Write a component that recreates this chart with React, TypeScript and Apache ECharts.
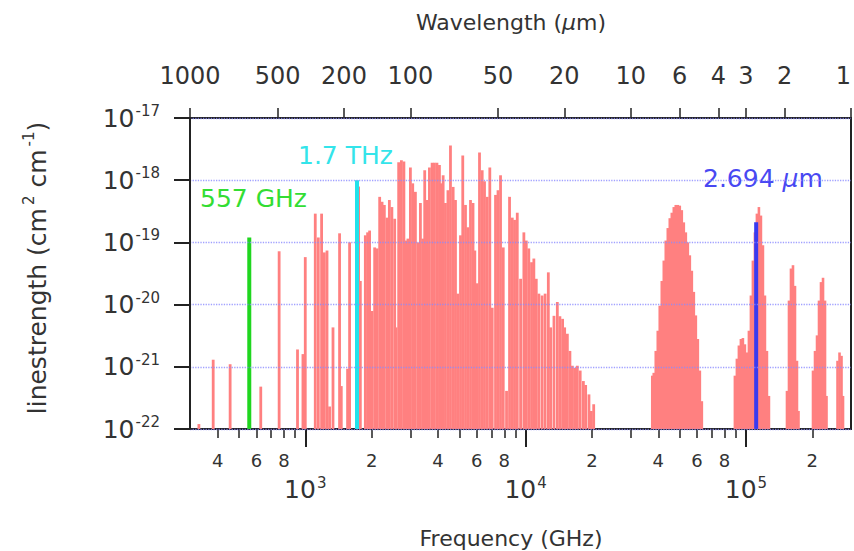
import React, { useEffect, useRef } from 'react';
import * as echarts from 'echarts';

// speed of light expressed as GHz·µm
const C_GHZ_UM = 299792.458;

// individual absorption lines (frequency in GHz, linestrength in cm^2 cm^-1)
const lineFreqGHz = [
  329, 382, 456, 628, 761, 922, 976, 1000, 1110, 1146, 1186, 1220, 1255, 1289, 1336, 1431, 1457, 1556, 1589,
  1746, 1778, 1873, 1918, 1959, 2009, 2065, 2118, 2176, 2231, 2285, 2350, 2408, 2472, 2546, 2583,
  2654, 2731, 2803, 2868, 2923, 3000, 3074, 3161, 3252, 3331, 3412, 3484, 3573, 3660, 3764, 3856,
  3959, 4064, 4137, 4224, 4327, 4442, 4560, 4690, 4805, 4921, 5063, 5185, 5335, 5467, 5622, 5772,
  5882, 6031, 6177, 6353, 6508, 6694, 6879, 7054, 7303, 7496, 7695, 7916, 8194, 8455, 8698, 8910,
  9166, 9488, 9820, 10070, 10340, 10640, 10900, 11180, 11490, 11880, 12260, 12680, 12990, 13450,
  13930, 14310, 14720, 15040, 15470, 15890, 16300, 16700, 17170, 17690, 18290, 18730, 19390, 19880, 20370,
];
const lineStrength = [
  1.2e-22, 1.3e-21, 1.1e-21, 4.8e-22, 7.2e-20, 1.9e-21, 1.6e-21, 5.8e-20, 2.9e-19, 1.2e-19, 2.9e-19, 6.9e-20, 7.4e-20, 2.3e-22, 4.3e-21, 1.4e-19, 4.9e-22, 9.3e-22, 1.0e-19,
  7.9e-19, 2.4e-20, 1.3e-19, 1.45e-19, 1.55e-19, 7.9e-21, 8.3e-20, 8.0e-20, 5.4e-19, 4.5e-19, 4.0e-19, 2.5e-19, 4.8e-19, 3.7e-19, 2.4e-19, 4.3e-21,
  1.95e-18, 2.1e-18, 2.0e-18, 1.07e-19, 1.15e-19, 1.6e-18, 8.9e-19, 6.5e-19, 1.0e-19, 4.3e-19, 1.15e-19, 1.45e-18, 4.8e-19, 1.6e-18, 1.9e-18, 1.9e-18,
  1.9e-18, 1.75e-18, 8.9e-19, 1.2e-18, 4.3e-19, 6.9e-19, 3.6e-18, 7.8e-19, 4.8e-19, 1.5e-20, 1.3e-19, 2.5e-18, 4.0e-19, 1.75e-19, 4.8e-19, 4.3e-19,
  7.4e-20, 2.2e-20, 2.8e-18, 1.45e-18, 9.6e-19, 5.4e-19, 1.6e-18, 8.9e-21, 5.8e-19, 6.9e-19, 1.2e-18, 8.3e-20, 4.1e-22, 5.4e-19, 2.5e-19, 2.3e-19,
  3.0e-19, 2.6e-20, 1.45e-19, 1.07e-19, 8.0e-20, 4.8e-20, 5.5e-20, 2.6e-20, 1.5e-20, 1.4e-20, 1.5e-20, 3.3e-20, 4.3e-21, 6.6e-21,
  1.1e-20, 6.5e-21, 5.9e-21, 4.3e-21, 3.4e-21, 1.8e-21, 1.04e-21, 9.6e-22, 1.04e-21, 8.7e-22, 5.9e-22, 5.1e-22, 3.6e-22, 1.95e-22, 2.5e-22,
];

// dense vibrational bands (envelopes of unresolved lines)
const bandFreqGHz = [
  37570, 38160, 38970, 39800, 40630, 41500, 42380, 43270, 44190, 45120, 46080, 47050, 48030, 49050,
  50090, 51150, 52240, 53350, 54480, 55630, 56810, 58010, 59240, 60490, 61770, 63070,
  89100, 90970, 92900, 94870, 96870, 98930, 101000, 103150, 105340, 107550, 109830, 112150, 114520,
  116950, 119430, 121950, 124540, 127170,
  153560, 156800, 160100, 163500, 166950, 170450, 173200,
  201550, 205800, 210200, 214600, 219100, 223800, 228500, 232100,
  260400, 265900, 271500, 275800,
];
const bandStrength = [
  7.2e-22, 8.0e-22, 1.8e-21, 3.8e-21, 9.6e-21, 2.4e-20, 5.1e-20, 1.07e-19, 1.7e-19, 2.45e-19, 3.0e-19, 3.7e-19, 4.0e-19, 4.0e-19,
  3.9e-19, 3.3e-19, 2.1e-19, 1.45e-19, 1.0e-19, 6.2e-20, 3.5e-20, 1.6e-20, 6.7e-21, 2.8e-21, 8.7e-22, 2.8e-22,
  7.2e-22, 1.35e-21, 2.2e-21, 2.8e-21, 2.9e-21, 2.3e-21, 1.7e-21, 3.8e-21, 1.4e-20, 5.1e-20, 1.45e-19, 2.9e-19, 3.7e-19,
  2.7e-19, 9.0e-20, 1.4e-20, 1.8e-21, 3.4e-22,
  4.1e-22, 1.16e-20, 3.8e-20, 4.3e-20, 2.0e-20, 1.25e-21, 1.95e-22,
  8.7e-22, 1.8e-21, 3.2e-21, 1.16e-20, 2.3e-20, 2.7e-20, 1.16e-20, 3.4e-22,
  1.25e-21, 1.7e-21, 1.5e-21, 3.4e-22,
];

// highlighted lines
const markFreqGHz = [557, 1717, 111280];
const markStrength = [1.2e-19, 1.0e-18, 2.1e-19];
const markLabels = ['557 GHz', '1.7 THz', '2.694 {i|µ}m'];

// axis ticks
const minorTickGHz = [400, 500, 600, 700, 800, 900, 2000, 3000, 4000, 5000, 6000, 7000, 8000, 9000,
  20000, 30000, 40000, 50000, 60000, 70000, 80000, 90000, 200000];
const minorLabelGHz = [400, 600, 800, 2000, 4000, 6000, 8000, 20000, 40000, 60000, 80000, 200000];
const majorTickGHz = [1000, 10000, 100000];
const topTickPosUm = [1000, 400, 200, 100, 40, 20, 10, 6, 4, 3, 2, 1];
const topTickLabels = ['1000', '500', '200', '100', '50', '20', '10', '6', '4', '3', '2', '1'];
const yMinExp = -22;
const yMaxExp = -17;

const FONT = 'DejaVu Sans';
const BAR_COLOR = '#ff8080';
const MARK_COLORS = ['#1fd61f', '#22e2ea', '#3a3af0'];
const MARK_TEXT_COLORS = ['#33dd33', '#33e4ea', '#4848f2'];
const AXIS_COLOR = '#222';
const TEXT_COLOR = '#333';

const lg = (f: number) => Math.log10(f);

function barRenderer(width: number, color: string) {
  return (_params: any, api: any) => {
    const x = api.value(0);
    const v = api.value(1);
    const top = api.coord([x, v]);
    const base = api.coord([x, yMinExp]);
    return {
      type: 'rect',
      shape: { x: top[0] - width / 2, y: top[1], width, height: base[1] - top[1] },
      style: { fill: color },
    };
  };
}

export default function App() {
  const ref = useRef<HTMLDivElement>(null);

  useEffect(() => {
    document.body.style.margin = '0';
    if (!ref.current) return;
    const chart = echarts.init(ref.current, undefined, { renderer: 'svg' });

    const xMin = lg(C_GHZ_UM / 1000);
    const xMax = lg(C_GHZ_UM / 1);
    const topPos = topTickPosUm.map((u) => lg(C_GHZ_UM / u));

    const supRich = {
      b: { fontSize: 25, fontFamily: FONT, color: TEXT_COLOR },
      s: { fontSize: 15, fontFamily: FONT, color: TEXT_COLOR, padding: [0, 0, 14, 1] },
    };

    const option: any = {
      animation: false,
      textStyle: { fontFamily: FONT },
      grid: {
        left: 190, right: 3, top: 118, bottom: 122,
        containLabel: false, outerBoundsMode: 'none',
        show: true, borderColor: AXIS_COLOR, borderWidth: 2, backgroundColor: 'transparent',
      },
      xAxis: [
        {
          type: 'value', position: 'bottom', min: xMin, max: xMax,
          axisLine: { lineStyle: { color: AXIS_COLOR, width: 2 } },
          axisTick: { customValues: minorTickGHz.map(lg), length: 9, lineStyle: { color: AXIS_COLOR, width: 1.5 } },
          axisLabel: {
            customValues: minorLabelGHz.map(lg),
            formatter: (v: number) => String(Math.round(Math.pow(10, v) / Math.pow(10, Math.floor(v + 1e-9)))),
            fontSize: 18, color: TEXT_COLOR, margin: 22,
          },
          splitLine: { show: false },
        },
        {
          type: 'value', position: 'bottom', min: xMin, max: xMax,
          axisLine: { show: false },
          axisTick: { customValues: majorTickGHz.map(lg), length: 18, lineStyle: { color: AXIS_COLOR, width: 2 } },
          axisLabel: {
            customValues: majorTickGHz.map(lg),
            formatter: (v: number) => `{b|10}{s|${Math.round(v)}}`,
            rich: supRich, margin: 46,
          },
          splitLine: { show: false },
        },
        {
          type: 'value', position: 'top', min: xMin, max: xMax,
          axisLine: { lineStyle: { color: AXIS_COLOR, width: 2 } },
          axisTick: { customValues: topPos, length: 10, lineStyle: { color: AXIS_COLOR, width: 1.5 } },
          axisLabel: {
            customValues: topPos,
            alignMaxLabel: 'right',
            formatter: (v: number) => {
              let best = 0;
              topPos.forEach((p, i) => { if (Math.abs(p - v) < Math.abs(topPos[best] - v)) best = i; });
              return topTickLabels[best];
            },
            fontSize: 24, color: TEXT_COLOR, margin: 30,
          },
          splitLine: { show: false },
        },
      ],
      yAxis: {
        type: 'value', min: yMinExp, max: yMaxExp, interval: 1, z: 5,
        axisLine: { lineStyle: { color: AXIS_COLOR, width: 2 } },
        axisTick: { length: 16, lineStyle: { color: AXIS_COLOR, width: 2 } },
        axisLabel: {
          formatter: (v: number) => `{b|10}{s|${Math.round(v)}}`,
          rich: supRich, margin: 30, showMinLabel: true, showMaxLabel: true,
        },
        splitLine: { show: true, lineStyle: { type: 'dotted', color: '#8a8aff', width: 1.3, opacity: 0.8 } },
      },
      series: [
        {
          type: 'custom', name: 'lines', xAxisIndex: 0, yAxisIndex: 0, z: 2,
          renderItem: barRenderer(2.8, BAR_COLOR),
          data: lineFreqGHz.map((f, i) => [lg(f), lg(lineStrength[i])]),
        },
        {
          type: 'custom', name: 'bands', xAxisIndex: 0, yAxisIndex: 0, z: 2,
          renderItem: barRenderer(2.6, BAR_COLOR),
          data: bandFreqGHz.map((f, i) => [lg(f), lg(bandStrength[i])]),
        },
        ...markFreqGHz.map((f, i) => ({
          type: 'custom', name: markLabels[i], xAxisIndex: 0, yAxisIndex: 0, z: 3,
          renderItem: barRenderer(4, MARK_COLORS[i]),
          data: [[lg(f), lg(markStrength[i])]],
        })),
      ],
      graphic: [
        {
          type: 'text', x: 511, y: 22,
          style: {
            text: 'Wavelength ({i|µ}m)', fontFamily: FONT, fontSize: 22, fill: TEXT_COLOR,
            align: 'center', verticalAlign: 'middle',
            rich: { i: { fontStyle: 'italic', fontSize: 22, fontFamily: FONT, fill: TEXT_COLOR } },
          },
        },
        {
          type: 'text', x: 511, y: 538,
          style: { text: 'Frequency (GHz)', fontFamily: FONT, fontSize: 22, fill: TEXT_COLOR, align: 'center', verticalAlign: 'middle' },
        },
        {
          type: 'text', x: 37, y: 268, rotation: Math.PI / 2,
          style: {
            text: 'linestrength (cm{s|2} cm{s|-1})', fontFamily: FONT, fontSize: 25, fill: TEXT_COLOR,
            align: 'center', verticalAlign: 'middle',
            rich: { s: { fontSize: 15, fontFamily: FONT, fill: TEXT_COLOR, padding: [0, 0, 16, 3] } },
          },
        },
        ...markLabels.map((t, i) => ({
          type: 'text',
          x: [200, 298, 703][i], y: [198, 155, 178][i],
          style: {
            text: t, fontFamily: FONT, fontSize: 25, fill: MARK_TEXT_COLORS[i],
            align: 'left', verticalAlign: 'middle',
            rich: { i: { fontStyle: 'italic', fontSize: 25, fontFamily: FONT, fill: MARK_TEXT_COLORS[i] } },
          },
        })),
      ],
    };

    chart.setOption(option);
    return () => chart.dispose();
  }, []);

  return <div ref={ref} style={{ width: 854, height: 551 }} />;
}
